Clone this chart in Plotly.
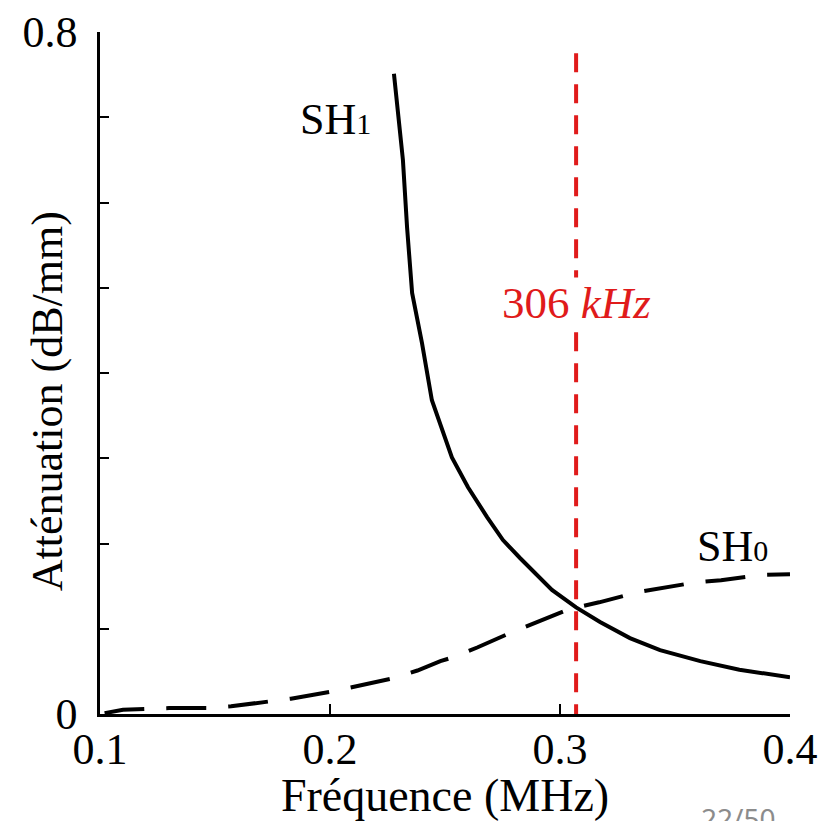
import plotly.graph_objects as go

# ---- data ----
sh1_freq = [0.2278, 0.2317, 0.2335, 0.2357, 0.2400, 0.2443, 0.2530, 0.2600, 0.2683,
            0.2752, 0.2826, 0.2965, 0.3070, 0.3174, 0.3304, 0.3435, 0.3610, 0.3780, 0.4000]
sh1_att = [0.751, 0.650, 0.571, 0.494, 0.435, 0.368, 0.301, 0.266, 0.231,
           0.204, 0.183, 0.1455, 0.125, 0.108, 0.089, 0.075, 0.062, 0.052, 0.043]

sh0_freq = [0.102, 0.110, 0.130, 0.147, 0.157, 0.173, 0.183, 0.200, 0.210, 0.226, 0.238,
            0.248, 0.254, 0.264, 0.280, 0.290, 0.304, 0.317, 0.334, 0.358, 0.370, 0.387, 0.400]
sh0_att = [0.001, 0.005, 0.007, 0.007, 0.009, 0.014, 0.018, 0.026, 0.032, 0.041, 0.051,
           0.062, 0.067, 0.078, 0.097, 0.108, 0.123, 0.131, 0.143, 0.154, 0.157, 0.163, 0.164]

marker_freq = 0.307          # position of the red dashed line (MHz)
marker_top = 0.775           # top end of the red dashed line
marker_label = "306 <i>kHz</i>"

x_tickvals = [0.1, 0.2, 0.3, 0.4]
x_ticktext = ["0.1", "0.2", "0.3", "0.4"]
y_tickvals = [0, 0.1, 0.2, 0.3, 0.4, 0.5, 0.6, 0.7, 0.8]
y_ticktext = ["0", "", "", "", "", "", "", "", "0.8"]

SERIF = "Liberation Serif"
RED = "#e01b1b"

fig = go.Figure()
fig.add_trace(go.Scatter(x=sh1_freq, y=sh1_att, mode="lines", name="SH1",
                         line=dict(color="black", width=4), showlegend=False))
fig.add_trace(go.Scatter(x=sh0_freq, y=sh0_att, mode="lines", name="SH0",
                         line=dict(color="black", width=4, dash="40px,22px"),
                         showlegend=False))

fig.add_shape(type="line", xref="x", yref="y",
              x0=marker_freq, x1=marker_freq, y0=marker_top, y1=0,
              line=dict(color=RED, width=4, dash="19px,12px"))

fig.add_annotation(x=marker_freq, y=0.482, xref="x", yref="y", text=marker_label,
                   showarrow=False, xanchor="center", yanchor="middle",
                   font=dict(family=SERIF, size=45, color=RED),
                   bgcolor="white", borderpad=0)

fig.add_annotation(x=0.1861, y=0.697, xref="x", yref="y",
                   text="SH<span style='font-size:30px'>1</span>",
                   showarrow=False, xanchor="left", yanchor="middle",
                   font=dict(family=SERIF, size=44, color="black"))
fig.add_annotation(x=0.3587, y=0.196, xref="x", yref="y",
                   text="SH<span style='font-size:30px'>0</span>",
                   showarrow=False, xanchor="left", yanchor="middle",
                   font=dict(family=SERIF, size=44, color="black"))

fig.add_annotation(x=-0.076, y=0.458, xref="paper", yref="paper",
                   text="Atténuation (dB/mm)", textangle=-90,
                   showarrow=False, xanchor="center", yanchor="middle",
                   font=dict(family=SERIF, size=44, color="black"))

fig.add_annotation(x=0.868, y=-0.1525, xref="paper", yref="paper",
                   text="22/50", showarrow=False, xanchor="left", yanchor="middle",
                   font=dict(family="Noto Sans", size=28, color="#8c8c8c"))

# the page body adds an 8px margin, so the figure is 8px smaller than the window
fig.update_layout(
    width=820, height=813,
    margin=dict(l=92, r=38, t=24, b=107, autoexpand=False),
    paper_bgcolor="white", plot_bgcolor="white",
    font=dict(family=SERIF, size=44, color="black"),
    xaxis=dict(range=[0.1, 0.4], tickvals=x_tickvals, ticktext=x_ticktext,
               showgrid=False, zeroline=False, showline=True, linecolor="black",
               linewidth=2.5, ticks="inside", ticklen=10, tickwidth=2, tickcolor="black",
               tickfont=dict(family=SERIF, size=44, color="black"),
               ticklabelstandoff=-6,
               title=dict(text="Fréquence (MHz)", standoff=10,
                          font=dict(family=SERIF, size=46, color="black"))),
    yaxis=dict(range=[0, 0.8], tickvals=y_tickvals, ticktext=y_ticktext,
               showgrid=False, zeroline=False, showline=True, linecolor="black",
               linewidth=2.5, ticks="inside", ticklen=9, tickwidth=2, tickcolor="black",
               tickfont=dict(family=SERIF, size=44, color="black"),
               ticklabelstandoff=11),
)

fig.write_html("out.html")
